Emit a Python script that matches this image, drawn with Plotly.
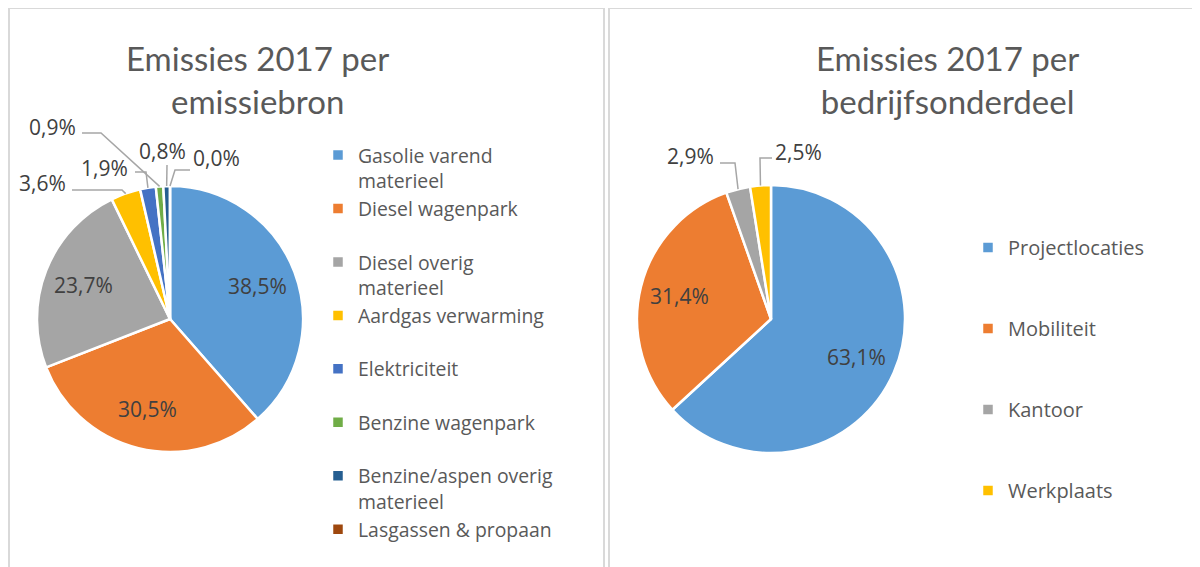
import math
import plotly.graph_objects as go

W, H = 1200, 567
OFFX, OFFY = 8, 8  # page body margin of the browser

# ---------------- data ----------------
src_labels = ["Gasolie varend materieel", "Diesel wagenpark", "Diesel overig materieel",
              "Aardgas verwarming", "Elektriciteit", "Benzine wagenpark",
              "Benzine/aspen overig materieel", "Lasgassen & propaan"]
src_values = [38.5, 30.5, 23.7, 3.6, 1.9, 0.9, 0.8, 0.0]
src_colors = ["#5B9BD5", "#ED7D31", "#A5A5A5", "#FFC000", "#4472C4", "#70AD47", "#255E91", "#9E480E"]

dept_labels = ["Projectlocaties", "Mobiliteit", "Kantoor", "Werkplaats"]
dept_values = [63.1, 31.4, 2.9, 2.5]
dept_colors = ["#5B9BD5", "#ED7D31", "#A5A5A5", "#FFC000"]

titles = ["Emissies 2017 per<br>emissiebron", "Emissies 2017 per<br>bedrijfsonderdeel"]

# ---------------- layout constants (screen pixels) ----------------
PIES = [dict(cx=170, cy=319, r=133), dict(cx=771, cy=319, r=134)]
TITLE_POS = [(257, 79), (947, 79)]
# outside label placement: index -> (text x, text y, line start x, line start y, elbow x)
OUT_LEFT = {3: (42, 183, 72, 190, 122),
            4: (105, 168, 135, 172, 146),
            5: (52, 127, 82, 133, 101),
            6: (162, 151, 167, 165, 167),
            7: (216, 158, 190, 170, 175)}
OUT_RIGHT = {2: (690, 156, 720, 163, 735),
             3: (798, 152, 772, 158, 760)}

LABEL_FONT = dict(family="Open Sans, sans-serif", size=21, color="#404040")
TEXT_GREY = "#595959"
LINE_GREY = "#A6A6A6"


def px2paper(x, y):
    return (x - OFFX) / W, 1 - (y - OFFY) / H


def fmt(v):
    return f"{v:.1f}".replace(".", ",") + "%"


def legend_text(s, pad_lines):
    if len(s) > 19 and " " in s:
        head, tail = s.rsplit(" ", 1)
        lines = [head, tail]
    else:
        lines = [s]
    while len(lines) < pad_lines:
        lines.append("&nbsp;")
    return "<br>".join(lines)


def slice_point(values, i, pie, frac):
    total = sum(values)
    cum = sum(values[:i])
    mid = (cum + values[i] / 2) / total * 2 * math.pi
    x = pie["cx"] + frac * pie["r"] * math.sin(mid)
    y = pie["cy"] - frac * pie["r"] * math.cos(mid)
    return x, y


def domain(pie):
    x0, y1 = px2paper(pie["cx"] - pie["r"], pie["cy"] - pie["r"])
    x1, y0 = px2paper(pie["cx"] + pie["r"], pie["cy"] + pie["r"])
    return dict(x=[x0, x1], y=[y0, y1])


fig = go.Figure()

fig.add_trace(go.Pie(
    labels=[legend_text(s, 2) for s in src_labels], values=src_values,
    marker=dict(colors=src_colors, line=dict(color="white", width=2.5)),
    sort=False, direction="clockwise", rotation=0,
    textinfo="none", hoverinfo="label+percent",
    domain=domain(PIES[0]), legend="legend", showlegend=True,
))
fig.add_trace(go.Pie(
    labels=[legend_text(s, 3) for s in dept_labels], values=dept_values,
    marker=dict(colors=dept_colors, line=dict(color="white", width=2.5)),
    sort=False, direction="clockwise", rotation=0,
    textinfo="none", hoverinfo="label+percent",
    domain=domain(PIES[1]), legend="legend2", showlegend=True,
))

annotations = []
shapes = []

# titles
for (tx, ty), t in zip(TITLE_POS, titles):
    x, y = px2paper(tx, ty)
    annotations.append(dict(x=x, y=y, xref="paper", yref="paper", text=t, showarrow=False,
                            xanchor="center", yanchor="middle",
                            font=dict(family="Lato, sans-serif", size=33, color=TEXT_GREY)))


def add_labels(values, pie, outside):
    for i, v in enumerate(values):
        if i in outside:
            tx, ty, sx, sy, ex = outside[i]
            x, y = px2paper(tx, ty)
            annotations.append(dict(x=x, y=y, xref="paper", yref="paper", text=fmt(v),
                                    showarrow=False, xanchor="center", yanchor="middle",
                                    font=LABEL_FONT))
            endx, endy = slice_point(values, i, pie, 1.0)
            p1 = px2paper(sx, sy)
            p2 = px2paper(ex, sy)
            p3 = px2paper(endx, endy)
            shapes.append(dict(type="path", xref="paper", yref="paper",
                               path=f"M {p1[0]},{p1[1]} L {p2[0]},{p2[1]} L {p3[0]},{p3[1]}",
                               line=dict(color=LINE_GREY, width=1.5)))
        else:
            lx, ly = slice_point(values, i, pie, 0.7)
            x, y = px2paper(lx, ly)
            annotations.append(dict(x=x, y=y, xref="paper", yref="paper", text=fmt(v),
                                    showarrow=False, xanchor="center", yanchor="middle",
                                    font=LABEL_FONT))


add_labels(src_values, PIES[0], OUT_LEFT)
add_labels(dept_values, PIES[1], OUT_RIGHT)

# chart-area borders
for x0p, x1p in [(9, 604), (609, 1230)]:
    a = px2paper(x0p, 8)
    b = px2paper(x1p, 620)
    shapes.append(dict(type="rect", xref="paper", yref="paper",
                       x0=a[0], x1=b[0], y0=b[1], y1=a[1],
                       line=dict(color="#D9D9D9", width=2), fillcolor="rgba(0,0,0,0)",
                       layer="below"))

lx1, ly1 = px2paper(318, 136)
lx2, ly2 = px2paper(968, 228)

fig.update_layout(
    width=W, height=H,
    margin=dict(l=0, r=0, t=0, b=0),
    paper_bgcolor="white", plot_bgcolor="white",
    annotations=annotations, shapes=shapes,
    legend=dict(x=lx1, y=ly1, xanchor="left", yanchor="top",
                font=dict(family="Open Sans, sans-serif", size=19.4, color=TEXT_GREY),
                valign="top", bgcolor="rgba(0,0,0,0)", tracegroupgap=0),
    legend2=dict(x=lx2, y=ly2, xanchor="left", yanchor="top",
                 font=dict(family="Open Sans, sans-serif", size=20, color=TEXT_GREY),
                 valign="top", bgcolor="rgba(0,0,0,0)", tracegroupgap=0),
)

fig.write_html("out.html")
